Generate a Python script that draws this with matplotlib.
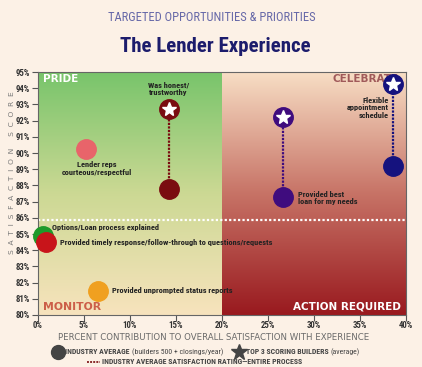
import matplotlib
matplotlib.use("Agg")
import matplotlib.pyplot as plt
import matplotlib.font_manager as fm
import numpy as np
from matplotlib.colors import LinearSegmentedColormap
from matplotlib.lines import Line2D

# ---- data ----
names = ["Was honest/\ntrustworthy",
         "Lender reps\ncourteous/respectful",
         "Provided best\nloan for my needs",
         "Flexible\nappointment\nschedule",
         "Options/Loan process explained",
         "Provided timely response/follow-through to questions/requests",
         "Provided unprompted status reports"]
contribution = [14.2, 5.2, 26.6, 38.6, 0.5, 0.9, 6.5]
industry_avg = [87.8, 90.25, 87.3, 89.2, 84.9, 84.5, 81.5]
top3_avg = [92.7, None, 92.2, 94.25, None, None, None]
industry_overall = 85.85
x_ticks = [0, 5, 10, 15, 20, 25, 30, 35, 40]
y_ticks = list(range(80, 96))

colors = ["#7a0c10", "#e8646a", "#3f0c7e", "#15127e", "#1e9a2a", "#c8141a", "#f0a020"]
label_anchor = ["top", "avg", "avg", "top", "avg", "avg", "avg"]
label_offset = [(0, 15), (8, -14), (11, -1), (-3, -17), (7, 6), (10, 0), (10, 0)]
label_ha = ["center", "center", "left", "right", "left", "left", "left"]

# look for a narrow face among what is installed
installed = {}
for f in fm.fontManager.ttflist:
    installed.setdefault(f.name, set()).add(str(f.stretch))
narrow_family, narrow_stretch = "DejaVu Sans", "normal"
for nm in ["Liberation Sans Narrow", "Roboto Condensed", "Noto Sans Condensed",
           "Noto Sans SemiCondensed", "Open Sans Condensed", "DejaVu Sans Condensed", "Arial Narrow"]:
    if nm in installed:
        narrow_family = nm
        break
else:
    for nm in ["Roboto", "Noto Sans", "Open Sans", "DejaVu Sans"]:
        if nm in installed and "condensed" in installed[nm]:
            narrow_family, narrow_stretch = nm, "condensed"
            break
narrow = [narrow_family, "DejaVu Sans"]

bg = "#fcf1e6"

fig = plt.figure(figsize=(4.22, 3.67), dpi=100, facecolor=bg)
ax = fig.add_axes([0.090, 0.1417, 0.872, 0.662])

# ---- quadrant backgrounds ----
grad = np.linspace(0, 1, 256).reshape(-1, 1)
green = LinearSegmentedColormap.from_list("g", [(0.97, 0.89, 0.74), (0.80, 0.85, 0.58), (0.47, 0.77, 0.42)])
red = LinearSegmentedColormap.from_list("r", [(0.60, 0.10, 0.12), (0.78, 0.45, 0.40), (0.97, 0.87, 0.77)])
ax.imshow(grad, cmap=green, extent=[0, 20, 80, 95], origin="lower", aspect="auto", zorder=0)
ax.imshow(grad, cmap=red, extent=[20, 40, 80, 95], origin="lower", aspect="auto", zorder=0)
ax.set_xlim(0, 40)
ax.set_ylim(80, 95)

ax.axhline(industry_overall, color="white", lw=1.6, ls=(0, (1, 1)), zorder=1)

ax.text(0.6, 94.6, "PRIDE", color="white", fontsize=7.5, fontweight="bold", va="center", zorder=2)
ax.text(39.2, 94.6, "CELEBRATE", color="#a05a5a", fontsize=7.5, fontweight="bold", ha="right", va="center", zorder=2)
ax.text(0.6, 80.5, "MONITOR", color="#cc5e48", fontsize=7.8, fontweight="bold", va="center", zorder=2)
ax.text(39.5, 80.5, "ACTION REQUIRED", color="white", fontsize=7.5, fontweight="bold", ha="right", va="center", zorder=2)

# ---- points ----
for i in range(len(names)):
    x = contribution[i]
    c = colors[i]
    if top3_avg[i] is not None:
        ax.plot([x, x], [industry_avg[i], top3_avg[i]], color=c, lw=1.6, ls=(0, (1, 0.6)), zorder=3)
        ax.plot(x, top3_avg[i], "o", ms=14, color=c, mec=c, zorder=4, clip_on=False)
        ax.plot(x, top3_avg[i], "*", ms=10.5, color="white", mec="white", zorder=5, clip_on=False)
    ax.plot(x, industry_avg[i], "o", ms=14, color=c, mec=c, zorder=4, clip_on=False)

    y_anchor = top3_avg[i] if label_anchor[i] == "top" else industry_avg[i]
    ax.annotate(names[i], (x, y_anchor), xytext=label_offset[i], textcoords="offset points",
                ha=label_ha[i], va="center", fontsize=6, fontweight="bold", family=narrow,
                fontstretch=narrow_stretch, color="#222222", linespacing=1.05, zorder=6)

# ---- axes styling ----
ax.set_xticks(x_ticks)
ax.set_xticklabels([f"{v}%" for v in x_ticks])
ax.set_yticks(y_ticks)
ax.set_yticklabels([f"{v}%" for v in y_ticks])
for lab in ax.get_xticklabels() + ax.get_yticklabels():
    lab.set_family(narrow)
    lab.set_fontstretch(narrow_stretch)
    lab.set_fontweight("bold")
    lab.set_fontsize(6.3)
    lab.set_color("#333333")
ax.tick_params(axis="y", length=4, width=0.8, color="#555555", pad=2)
ax.tick_params(axis="x", length=4, width=0.8, color="#555555", pad=0.5)
for s in ax.spines.values():
    s.set_color("#666666")
    s.set_linewidth(0.8)

fig.text(12 / 422, 1 - 173 / 367, "S  A  T  I  S  F  A  C  T  I  O  N     S  C  O  R  E", rotation=90,
         ha="center", va="center", fontsize=5.4, color="#7a7a7a")

# ---- titles ----
fig.text(0.502, 0.951, "TARGETED OPPORTUNITIES & PRIORITIES", ha="center", va="center",
         fontsize=9, color="#6668a8", family=narrow, fontstretch=narrow_stretch)
fig.text(0.51, 0.872, "The Lender Experience", ha="center", va="center",
         fontsize=15, fontweight="bold", color="#1c1c6c", family=narrow, fontstretch=narrow_stretch)

# ---- footer / legend ----
fig.text(214 / 422, 1 - 337 / 367, "PERCENT CONTRIBUTION TO OVERALL SATISFACTION WITH EXPERIENCE",
         ha="center", va="center", fontsize=6.2, color="#6a6a6a")

renderer = fig.canvas.get_renderer()


def row(x_px, y_px, pieces):
    # put text pieces one after another, starting at x_px (pixels from left)
    x = x_px
    for txt, weight in pieces:
        t = fig.text(x / 422, 1 - y_px / 367, txt, ha="left", va="center", fontsize=5.6,
                     fontweight=weight, color="#444444", family=narrow, fontstretch=narrow_stretch)
        x = t.get_window_extent(renderer).x1 + 2
    return x


y_leg = 352
fig.add_artist(Line2D([58 / 422], [1 - y_leg / 367], marker="o", ms=10, color="#444444",
                      transform=fig.transFigure))
end = row(65, y_leg, [("INDUSTRY AVERAGE", "bold"), ("(builders 500 + closings/year)", "normal")])
star_x = end + 14
fig.add_artist(Line2D([star_x / 422], [1 - y_leg / 367], marker="*", ms=12, color="#444444",
                      transform=fig.transFigure))
row(star_x + 7, y_leg, [("TOP 3 SCORING BUILDERS", "bold"), ("(average)", "normal")])

fig.add_artist(Line2D([87 / 422, 100 / 422], [1 - 362 / 367] * 2, color="#8a2a2a", lw=1.4,
                      ls=(0, (1, 0.6)), transform=fig.transFigure))
row(102, 362, [("INDUSTRY AVERAGE SATISFACTION RATING\u2014ENTIRE PROCESS", "bold")])

fig.savefig("out.png", dpi=100, facecolor=bg)
